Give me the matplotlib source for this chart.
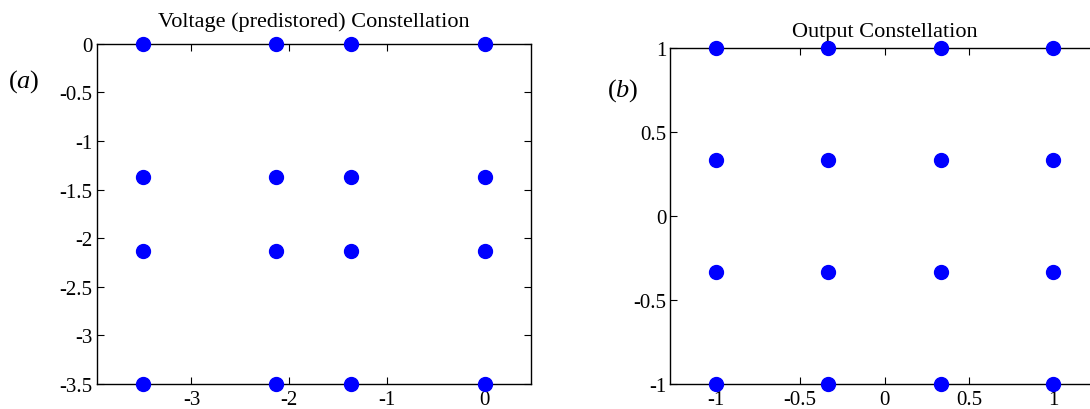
import matplotlib
matplotlib.use("Agg")
import matplotlib.pyplot as plt

plt.rcParams['font.family'] = ['Liberation Serif', 'DejaVu Serif']
plt.rcParams['mathtext.fontset'] = 'custom'
plt.rcParams['mathtext.it'] = 'Liberation Serif:italic'
plt.rcParams['mathtext.rm'] = 'Liberation Serif'
plt.rcParams['axes.unicode_minus'] = False

# predistorted voltage levels (a) and output levels (b)
volt_levels = [-3.5, -2.13, -1.37, 0.0]
out_levels = [-1.0, -1/3, 1/3, 1.0]

volt_xticks = [-3, -2, -1, 0]
volt_yticks = [0, -0.5, -1, -1.5, -2, -2.5, -3, -3.5]
volt_ylabels = ['0', '-0.5', '-1', '-1.5', '-2', '-2.5', '-3', '-3.5']
out_ticks = [-1, -0.5, 0, 0.5, 1]
out_labels = ['-1', '-0.5', '0', '0.5', '1']


def grid_points(levels):
    xs, ys = [], []
    for yv in levels:
        for xv in levels:
            xs.append(xv)
            ys.append(yv)
    return xs, ys


def style_axes(ax):
    ax.tick_params(direction='in', length=5, width=0.8, top=True, right=True,
                   labelsize=15)
    ax.tick_params(axis='x', pad=4)
    ax.tick_params(axis='y', pad=3)
    for sp in ax.spines.values():
        sp.set_linewidth(1.0)


fig = plt.figure(figsize=(10.9, 4.1), dpi=100)

ax1 = fig.add_axes([0.0887, 0.061, 0.398, 0.830])
xs, ys = grid_points(volt_levels)
ax1.plot(xs, ys, 'o', color='#0000ff', markersize=10, clip_on=False, zorder=5)
ax1.set_xlim(-3.97, 0.47)
ax1.set_ylim(-3.5, 0)
ax1.set_xticks(volt_xticks)
ax1.set_xticklabels([str(t) for t in volt_xticks])
ax1.set_yticks(volt_yticks)
ax1.set_yticklabels(volt_ylabels)
style_axes(ax1)
ax1.set_title('Voltage (predistored) Constellation', fontsize=16, pad=13)
fig.text(0.007, 0.80, r'($a$)', fontsize=19, va='center')

ax2 = fig.add_axes([0.615, 0.061, 0.393, 0.819])
xs, ys = grid_points(out_levels)
ax2.plot(xs, ys, 'o', color='#0000ff', markersize=10, clip_on=False, zorder=5)
ax2.set_xlim(-1.27, 1.27)
ax2.set_ylim(-1, 1)
ax2.set_xticks(out_ticks)
ax2.set_xticklabels(out_labels)
ax2.set_yticks(out_ticks)
ax2.set_yticklabels(out_labels)
style_axes(ax2)
ax2.set_title('Output Constellation', fontsize=16, pad=9)
fig.text(0.557, 0.778, r'($b$)', fontsize=19, va='center')

fig.savefig('out.png', dpi=100)
